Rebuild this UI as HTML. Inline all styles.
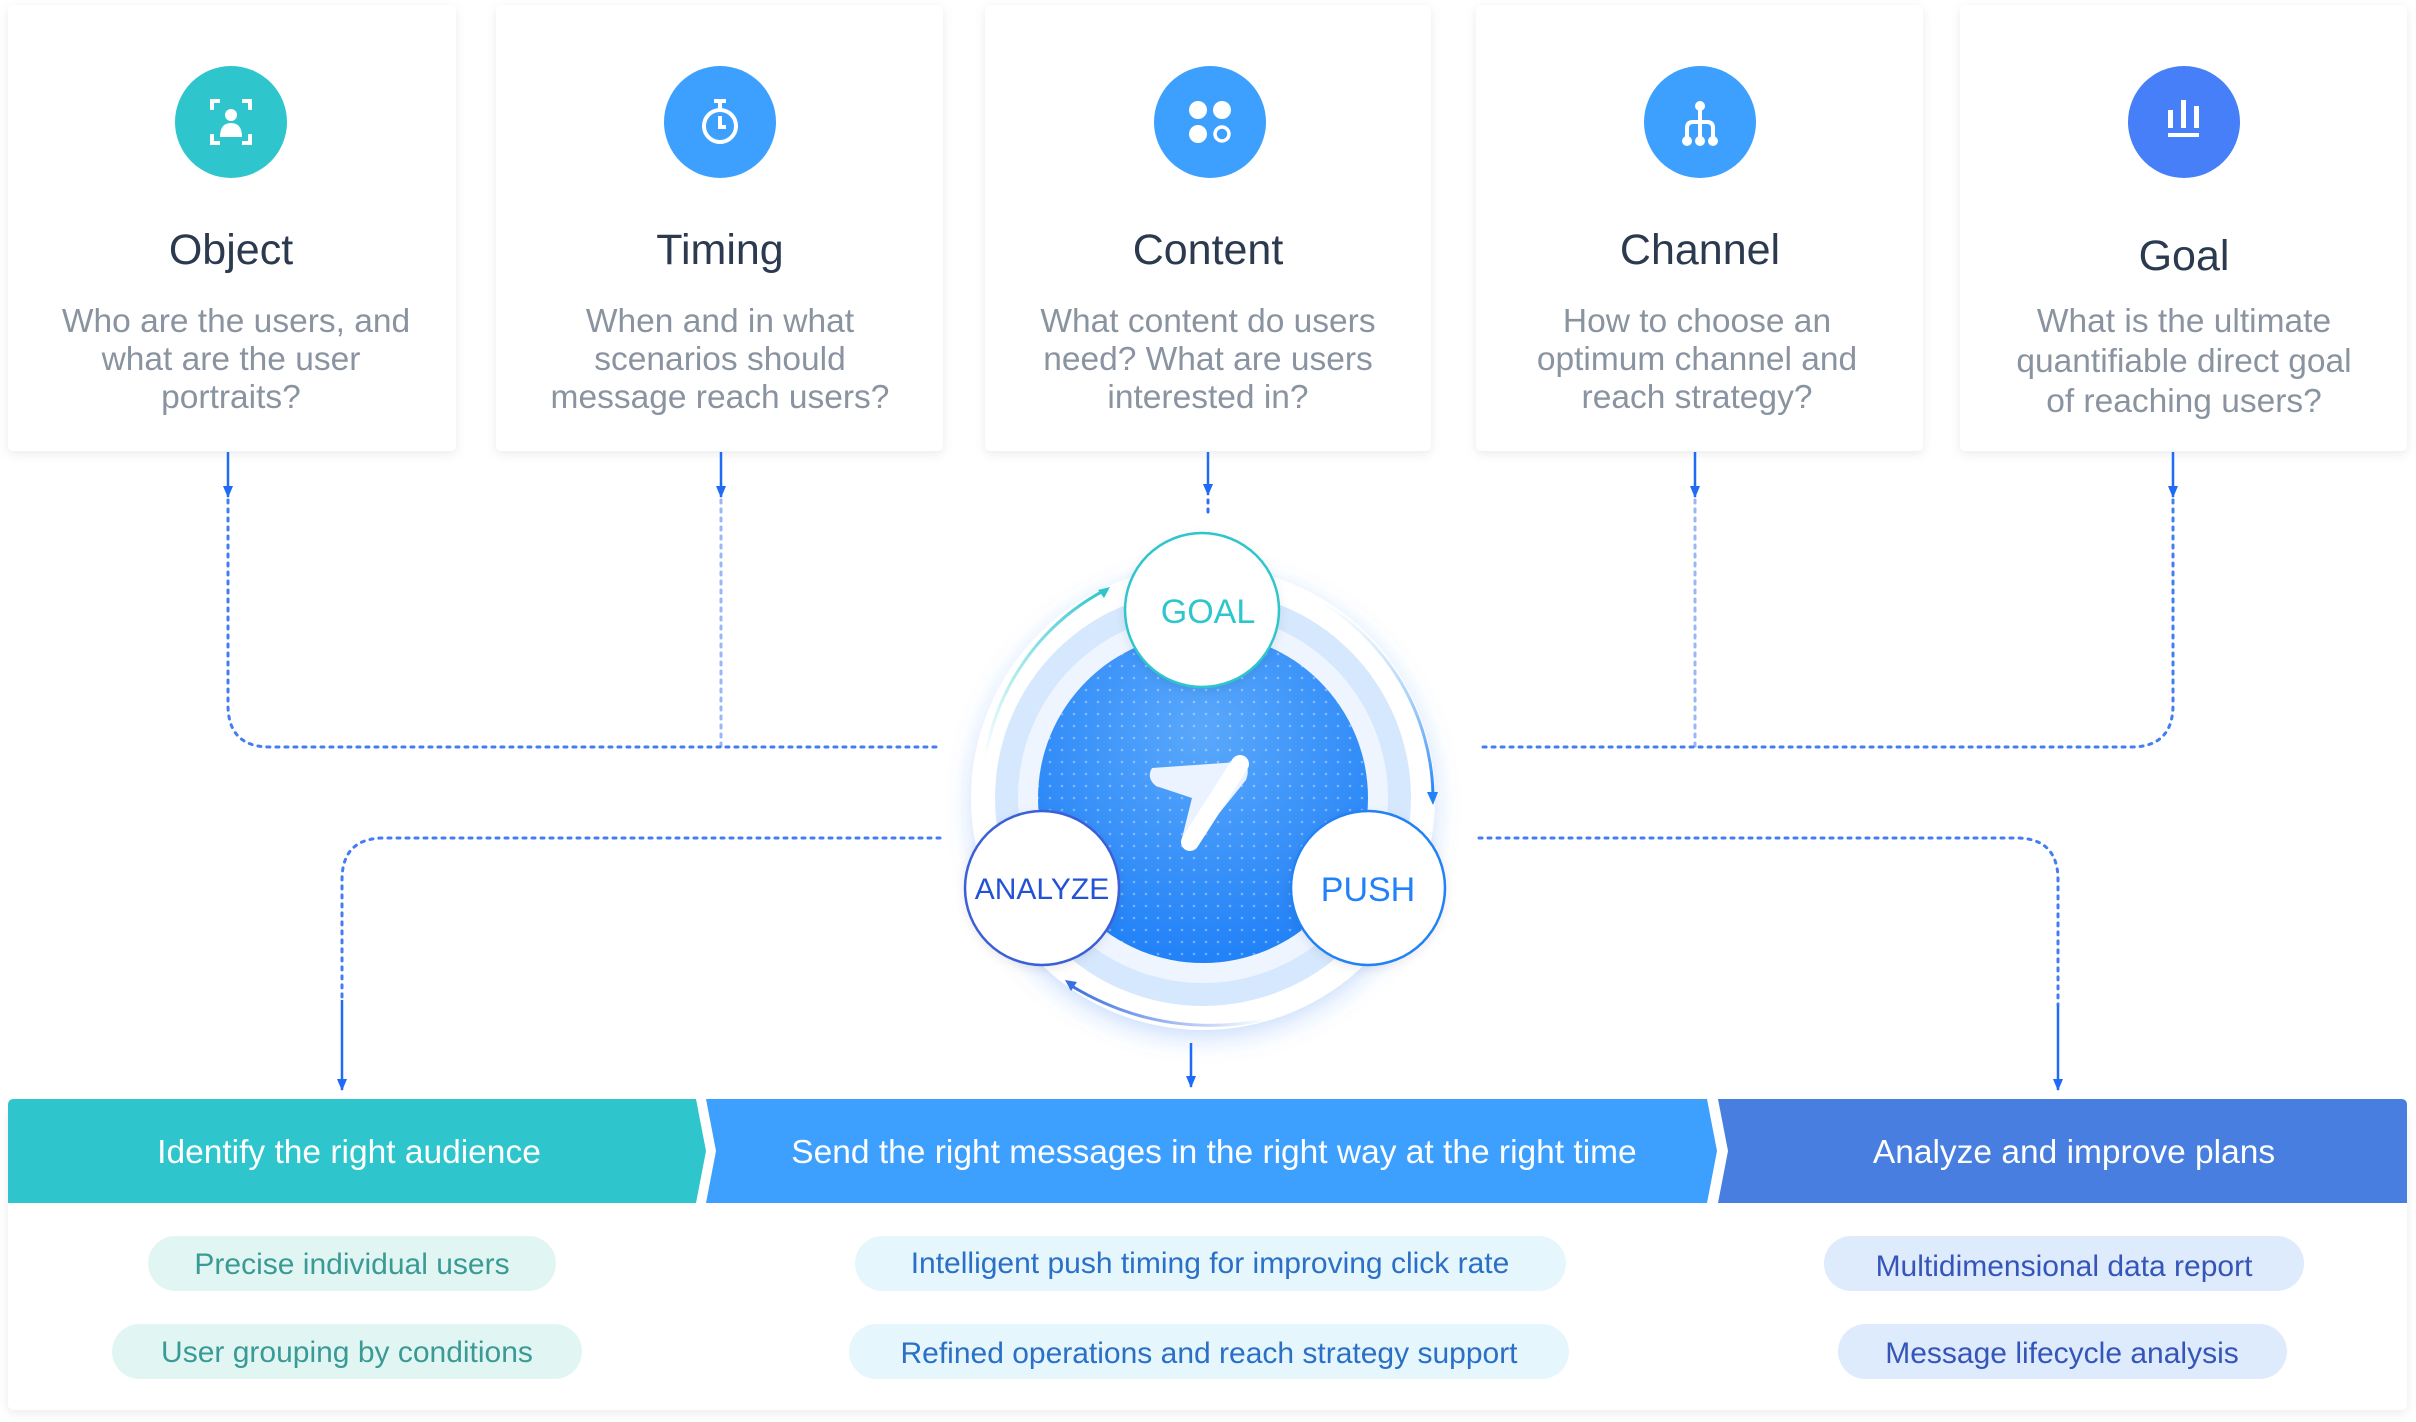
<!DOCTYPE html>
<html><head><meta charset="utf-8"><style>
html,body{margin:0;padding:0;background:#fff;}
svg{display:block;}
text{font-family:"Liberation Sans",sans-serif;}
</style></head><body>
<svg width="2416" height="1422" viewBox="0 0 2416 1422" xmlns="http://www.w3.org/2000/svg">
<defs>
<filter id="sh" x="-10%" y="-10%" width="120%" height="120%"><feDropShadow dx="0" dy="3" stdDeviation="5" flood-color="#000" flood-opacity="0.08"/></filter>
<filter id="sh2" x="-30%" y="-30%" width="160%" height="160%"><feDropShadow dx="0" dy="8" stdDeviation="12" flood-color="#2f7cf6" flood-opacity="0.25"/></filter>
<radialGradient id="core" cx="50%" cy="30%" r="70%"><stop offset="0" stop-color="#5aa8fb"/><stop offset="1" stop-color="#2181f7"/></radialGradient>
<pattern id="dots" width="12" height="12" patternUnits="userSpaceOnUse"><circle cx="6" cy="6" r="1.3" fill="#ffffff" fill-opacity="0.35"/></pattern>
<marker id="ar" markerWidth="12" markerHeight="12" refX="11" refY="5" orient="auto" markerUnits="userSpaceOnUse"><path d="M0,0 L12,5 L0,10 z" fill="#1f6bf5"/></marker>
<linearGradient id="arcL" x1="0" y1="1" x2="1" y2="0"><stop offset="0" stop-color="#2ec6cc" stop-opacity="0"/><stop offset="1" stop-color="#2ec6cc"/></linearGradient>
<linearGradient id="arcR" x1="0" y1="0" x2="0" y2="1"><stop offset="0" stop-color="#7cc8f7" stop-opacity="0"/><stop offset="1" stop-color="#2181f7"/></linearGradient>
<linearGradient id="arcB" x1="1" y1="0" x2="0" y2="0"><stop offset="0" stop-color="#3a6fe0" stop-opacity="0"/><stop offset="1" stop-color="#3a6fe0"/></linearGradient>
</defs>

<g filter="url(#sh)" fill="#fff">
<rect x="8" y="5" width="448" height="446" rx="6"/>
<rect x="496" y="5" width="447" height="446" rx="6"/>
<rect x="985" y="5" width="446" height="446" rx="6"/>
<rect x="1476" y="5" width="447" height="446" rx="6"/>
<rect x="1960" y="5" width="447" height="446" rx="6"/>
</g>
<circle cx="231" cy="122" r="56" fill="#2ec6cc"/>
<circle cx="720" cy="122" r="56" fill="#3da0fe"/>
<circle cx="1210" cy="122" r="56" fill="#3da0fe"/>
<circle cx="1700" cy="122" r="56" fill="#3da0fe"/>
<circle cx="2184" cy="122" r="56" fill="#477ff8"/>
<g fill="none" stroke="#fff" stroke-width="4">
<path d="M212,110 v-9 h8 M242,101 h8 v9 M212,134 v9 h8 M242,143 h8 v-9"/>
<circle cx="720" cy="126" r="16"/><path d="M720,116 v11 h6 M714,101 h12 M720,101 v9"/>
<path d="M1700,108 v14 M1687,140 v-12 q0,-6 6,-6 h14 q6,0 6,6 v12 M1700,122 v18"/>
</g>
<g fill="#fff">
<circle cx="231" cy="115" r="6"/><path d="M220,137 q0,-14 11,-14 q11,0 11,14 z"/>
<circle cx="1198" cy="110" r="9"/><circle cx="1222" cy="110" r="9"/><circle cx="1198" cy="134" r="9"/>
<circle cx="1700" cy="106" r="5"/><circle cx="1687" cy="141" r="5"/><circle cx="1700" cy="141" r="5"/><circle cx="1713" cy="141" r="5"/>
<rect x="2168" y="110" width="5" height="18"/><rect x="2181" y="100" width="5" height="28"/><rect x="2194" y="106" width="5" height="22"/><rect x="2168" y="133" width="31" height="4"/>
</g>
<circle cx="1222" cy="134" r="7" fill="none" stroke="#fff" stroke-width="3.5"/>

<g text-anchor="middle">
<g font-size="43" fill="#2b3a4f">
<text x="231" y="264">Object</text>
<text x="720" y="264">Timing</text>
<text x="1208" y="264">Content</text>
<text x="1700" y="264">Channel</text>
<text x="2184" y="270">Goal</text>
</g>
<g font-size="33.5" fill="#8a93a0">
<text x="236" y="332">Who are the users, and</text>
<text x="231" y="370">what are the user</text>
<text x="231" y="408">portraits?</text>
<text x="720" y="332">When and in what</text>
<text x="720" y="370">scenarios should</text>
<text x="720" y="408">message reach users?</text>
<text x="1208" y="332">What content do users</text>
<text x="1208" y="370">need? What are users</text>
<text x="1208" y="408">interested in?</text>
<text x="1697" y="332">How to choose an</text>
<text x="1697" y="370">optimum channel and</text>
<text x="1697" y="408">reach strategy?</text>
<text x="2184" y="332">What is the ultimate</text>
<text x="2184" y="372">quantifiable direct goal</text>
<text x="2184" y="412">of reaching users?</text>
</g>
</g>

<g stroke="#1f6bf5" stroke-width="2.5" fill="none">
<line x1="228" y1="452" x2="228" y2="497" marker-end="url(#ar)"/>
<line x1="721" y1="452" x2="721" y2="497" marker-end="url(#ar)"/>
<line x1="1208" y1="452" x2="1208" y2="495" marker-end="url(#ar)"/>
<line x1="1695" y1="452" x2="1695" y2="497" marker-end="url(#ar)"/>
<line x1="2173" y1="452" x2="2173" y2="497" marker-end="url(#ar)"/>
<line x1="342" y1="1000" x2="342" y2="1090" marker-end="url(#ar)"/>
<line x1="1191" y1="1043" x2="1191" y2="1087" marker-end="url(#ar)"/>
<line x1="2058" y1="1005" x2="2058" y2="1090" marker-end="url(#ar)"/>
</g>
<g stroke="#2f6ff0" stroke-width="3" fill="none" stroke-dasharray="3 6" stroke-linecap="round">
<path d="M228,500 V705 Q228,747 270,747 H940" stroke-opacity="0.9"/>
<path d="M721,500 V747" stroke-opacity="0.5"/>
<path d="M1208,500 V515"/>
<path d="M1695,500 V747" stroke-opacity="0.5"/>
<path d="M2173,500 V705 Q2173,747 2131,747 H1479" stroke-opacity="0.9"/>
<path d="M940,838 H384 Q342,838 342,880 V1000" stroke-opacity="0.9"/>
<path d="M1479,838 H2016 Q2058,838 2058,880 V1005" stroke-opacity="0.9"/>
</g>

<circle cx="1203" cy="798" r="232" fill="#fff" filter="url(#sh2)"/>
<circle cx="1203" cy="798" r="208" fill="#d6e8fd"/>
<circle cx="1203" cy="798" r="185" fill="#eef5fe"/>
<circle cx="1203" cy="798" r="165" fill="url(#core)"/>
<circle cx="1203" cy="798" r="165" fill="url(#dots)"/>
<path d="M1152,768 L1238,762 Q1252,764 1246,780 L1196,842 Q1188,850 1182,838 L1192,798 L1156,786 Q1146,778 1152,768 z" fill="#eaf3ff"/>
<path d="M1240,764 L1190,842" stroke="#fff" stroke-width="18" stroke-linecap="round"/>
<path d="M985,760 A231,231 0 0 1 1105,590" stroke="url(#arcL)" stroke-width="3" fill="none"/>
<path d="M1098,590 l12,-3 l-6,11 z" fill="#2ec6cc"/>
<path d="M1318,600 A231,231 0 0 1 1433,795" stroke="url(#arcR)" stroke-width="3" fill="none"/>
<path d="M1427,792 l11,0 l-5,13 z" fill="#2181f7"/>
<path d="M1265,1020 Q1160,1040 1070,985" stroke="url(#arcB)" stroke-width="3" fill="none"/>
<path d="M1065,980 l12,2 l-6,9 z" fill="#3a6fe0"/>

<g filter="url(#sh)">
<circle cx="1202" cy="610" r="77" fill="#fff" stroke="#2ec6cc" stroke-width="2.5"/>
<circle cx="1042" cy="888" r="77" fill="#fff" stroke="#3a5fd8" stroke-width="2.5"/>
<circle cx="1368" cy="888" r="77" fill="#fff" stroke="#2181f7" stroke-width="2.5"/>
</g>
<g text-anchor="middle">
<text x="1208" y="623" font-size="34" fill="#2ec6cc">GOAL</text>
<text x="1042" y="899" font-size="30" fill="#2352d6">ANALYZE</text>
<text x="1368" y="901" font-size="34" fill="#2181f7">PUSH</text>
</g>

<rect x="8" y="1110" width="2399" height="300" rx="6" fill="#fff" filter="url(#sh)"/>
<path d="M8,1105 q0,-6 6,-6 H696 L706,1151 L696,1203 H8 z" fill="#2ec6cc"/>
<path d="M706,1099 H1707 L1717,1151 L1707,1203 H706 L716,1151 z" fill="#3da0fe"/>
<path d="M1718,1099 H2401 q6,0 6,6 V1203 H1718 L1728,1151 z" fill="#477ee0"/>
<g text-anchor="middle" font-size="33.5" fill="#fff">
<text x="349" y="1163">Identify the right audience</text>
<text x="1214" y="1163">Send the right messages in the right way at the right time</text>
<text x="2074" y="1163">Analyze and improve plans</text>
</g>
<rect x="148" y="1236" width="408" height="55" rx="27.5" fill="#e1f6f3"/>
<rect x="112" y="1324" width="470" height="55" rx="27.5" fill="#e1f6f3"/>
<rect x="855" y="1236" width="711" height="55" rx="27.5" fill="#e5f6fd"/>
<rect x="849" y="1324" width="720" height="55" rx="27.5" fill="#e5f6fd"/>
<rect x="1824" y="1236" width="480" height="55" rx="27.5" fill="#ddebfd"/>
<rect x="1838" y="1324" width="449" height="55" rx="27.5" fill="#ddebfd"/>
<g text-anchor="middle" font-size="30">
<text x="352" y="1274" fill="#3a9a96">Precise individual users</text>
<text x="347" y="1362" fill="#3a9a96">User grouping by conditions</text>
<text x="1210" y="1273" fill="#2b6fc6">Intelligent push timing for improving click rate</text>
<text x="1209" y="1363" fill="#2b6fc6">Refined operations and reach strategy support</text>
<text x="2064" y="1276" fill="#3555b8">Multidimensional data report</text>
<text x="2062" y="1363" fill="#3555b8">Message lifecycle analysis</text>
</g>
</svg>
</body></html>
